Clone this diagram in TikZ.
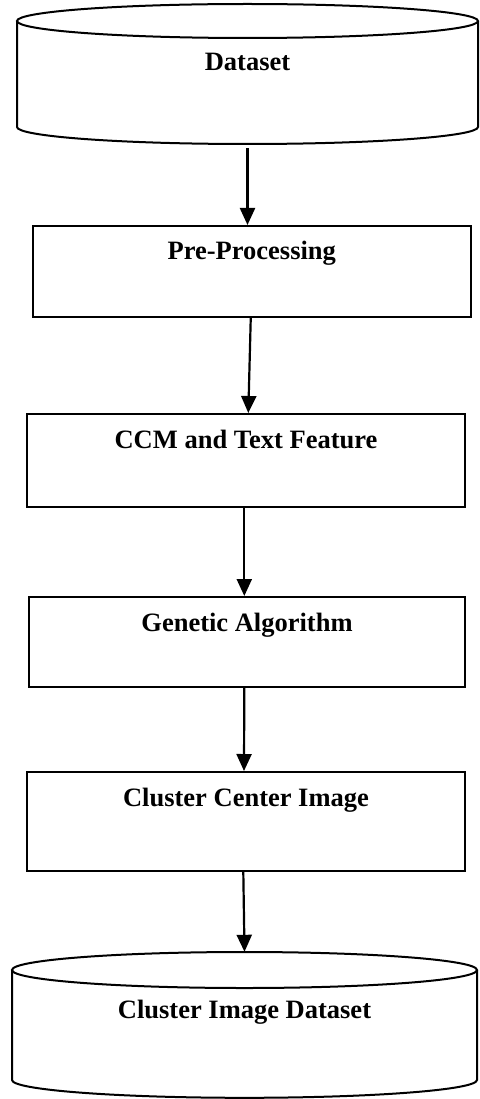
\documentclass[tikz,border=0pt]{standalone}
\usepackage{fontspec}
\setmainfont{Liberation Serif}
\usetikzlibrary{arrows.meta}
\tikzset{x=1pt, y=-1pt,
    every node/.style={
        font=\fontsize{26.5}{32}\selectfont\bfseries},
    procbox/.style={
        draw,
        line width=2pt,
        text height=18pt,
        text depth=42pt},
    dbstore/.style={
        inner sep=0pt,
        text height=18pt},
    dbline/.style={
        draw,
        line width=2pt},
    flow/.style={
        draw,
        line width=2.2pt,
        -{Triangle[width=15pt,length=17pt]}}}

\begin{document}
\begin{tikzpicture}
        \useasboundingbox (0,0) rectangle (479,1099);

        % storage cylinders
        \draw[dbline] (247.5,21) ellipse [x radius=230.5pt, y radius=17pt];
        \draw[dbline] (17,21) -- (17,127) arc [start angle=180, end angle=360, x radius=230.5pt, y radius=17pt] -- (478,21);
        \draw[dbline] (244.5,970) ellipse [x radius=232.5pt, y radius=18pt];
        \draw[dbline] (12,970) -- (12,1080) arc [start angle=180, end angle=360, x radius=232.5pt, y radius=17.8pt] -- (477,970);

        \node[dbstore, minimum width=461pt, minimum height=140pt, text depth=24pt] (dataset) at (247.5,74) {Dataset};
        \node[procbox, minimum width=437.5pt, minimum height=91pt] (prep) at (251.75,271.5) {Pre-Processing};
        \node[procbox, minimum width=438pt, minimum height=93pt] (ccm) at (246,460.5) {CCM and Text Feature};
        \node[procbox, minimum width=436pt, minimum height=90pt, text depth=40pt] (ga) at (247,642) {Genetic Algorithm};
        \node[procbox, minimum width=438pt, minimum height=99pt, text depth=49pt] (center) at (246,821.5) {Cluster Center Image};
        \node[dbstore, minimum width=465pt, minimum height=146pt, text depth=32pt] (clusterdb) at (244.5,1025) {Cluster Image Dataset};

        \draw[flow, shorten <=4pt] (dataset.south) -- (dataset.south |- prep.north);
        \draw[flow] ([xshift=-1pt]prep.south) -- ([xshift=2.3pt]ccm.north);
        \draw[flow] ([xshift=-1.7pt]ccm.south) -- ([xshift=-2.7pt]ga.north);
        \draw[flow] ([xshift=-2.7pt]ga.south) -- ([xshift=-2pt]center.north);
        \draw[flow] ([xshift=-2.7pt]center.south) -- (clusterdb.north);
    \end{tikzpicture}
\end{document}
